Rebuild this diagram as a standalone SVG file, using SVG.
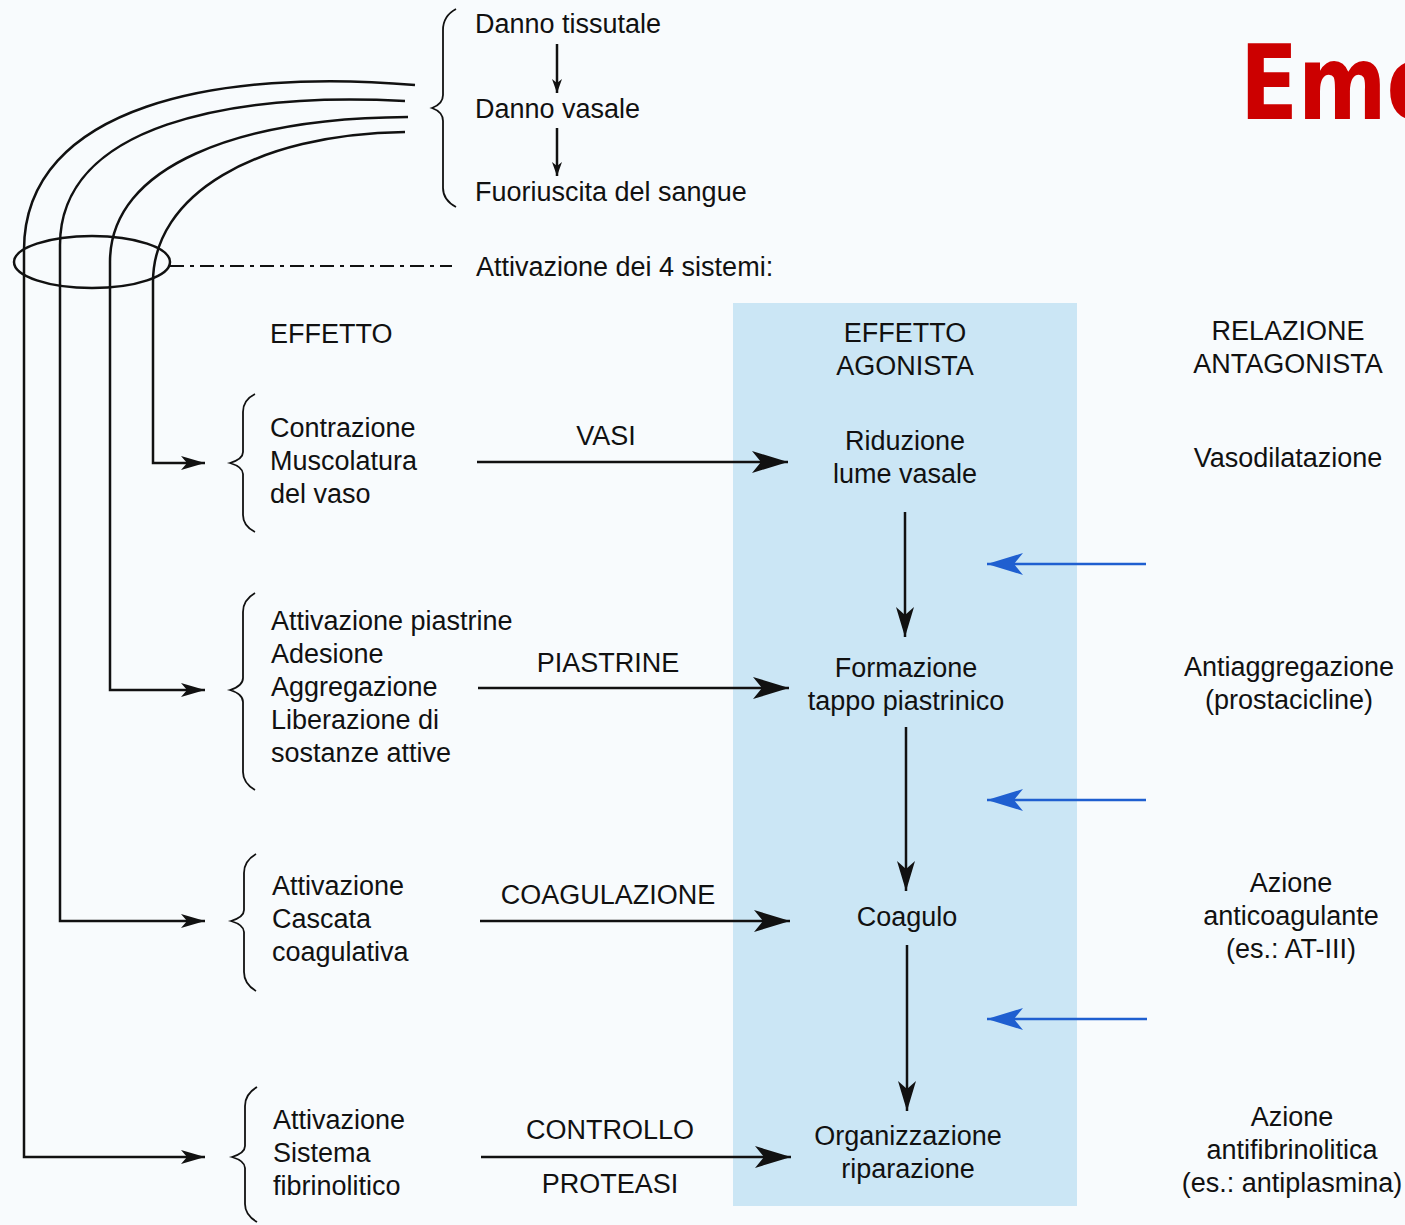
<svg xmlns="http://www.w3.org/2000/svg" width="1405" height="1225" viewBox="0 0 1405 1225">
<defs>
<marker id="big" markerUnits="userSpaceOnUse" markerWidth="36" markerHeight="22" viewBox="0 0 36 22" refX="36" refY="11" orient="auto"><path d="M0,0 L36,11 L0,22 L9,11 z" fill="#111"/></marker>
<marker id="vbig" markerUnits="userSpaceOnUse" markerWidth="30" markerHeight="18" viewBox="0 0 30 18" refX="30" refY="9" orient="auto"><path d="M0,0 L30,9 L0,18 L8,9 z" fill="#111"/></marker>
<marker id="med" markerUnits="userSpaceOnUse" markerWidth="24" markerHeight="14" viewBox="0 0 24 14" refX="24" refY="7" orient="auto"><path d="M0,0 L24,7 L0,14 L6,7 z" fill="#111"/></marker>
<marker id="small" markerUnits="userSpaceOnUse" markerWidth="14" markerHeight="10" viewBox="0 0 14 10" refX="14" refY="5" orient="auto"><path d="M0,0 L14,5 L0,10 L4,5 z" fill="#111"/></marker>
<marker id="blue" markerUnits="userSpaceOnUse" markerWidth="36" markerHeight="22" viewBox="0 0 36 22" refX="36" refY="11" orient="auto"><path d="M0,0 L36,11 L0,22 L9,11 z" fill="#1f5fd0"/></marker>
</defs>
<style>
text{font-family:"Liberation Sans",Arial,sans-serif;font-size:27px;fill:#111}
.c{text-anchor:middle}
.ln{fill:none;stroke:#111;stroke-width:2.5}
.br{fill:none;stroke:#111;stroke-width:1.8}
.bl{fill:none;stroke:#1f5fd0;stroke-width:2.5}
</style>
<rect x="0" y="0" width="1405" height="1225" fill="#f8fbfd"/>
<rect x="733" y="303" width="344" height="903" fill="#cbe6f5"/>
<text x="1240" y="119" textLength="205" lengthAdjust="spacingAndGlyphs" style="font-family:'DejaVu Sans',sans-serif;font-size:104px;font-weight:bold;fill:#cc0000">Emo</text>

<g id="connectors">
<path class="ln" d="M415,85 C220,68 24,105 24,250 L24,1157 L205,1157" marker-end="url(#med)"/>
<path class="ln" d="M405,101 C230,92 60,125 60,245 L60,921 L205,921" marker-end="url(#med)"/>
<path class="ln" d="M408,117 C240,118 110,165 110,262 L110,690 L205,690" marker-end="url(#med)"/>
<path class="ln" d="M405,132 C255,134 153,195 153,282 L153,463 L205,463" marker-end="url(#med)"/>
<ellipse class="ln" cx="92" cy="262" rx="78" ry="26"/>
<line x1="170" y1="266" x2="452" y2="266" stroke="#111" stroke-width="2" stroke-dasharray="14,6,4,6"/>
<line class="ln" x1="557" y1="44" x2="557" y2="93" stroke-width="1.8" marker-end="url(#small)"/>
<line class="ln" x1="557" y1="128" x2="557" y2="176" stroke-width="1.8" marker-end="url(#small)"/>
<line class="ln" x1="477" y1="462" x2="788" y2="462" marker-end="url(#big)"/>
<line class="ln" x1="478" y1="688" x2="789" y2="688" marker-end="url(#big)"/>
<line class="ln" x1="480" y1="921" x2="790" y2="921" marker-end="url(#big)"/>
<line class="ln" x1="481" y1="1157" x2="791" y2="1157" marker-end="url(#big)"/>
<line class="ln" x1="905" y1="512" x2="905" y2="637" marker-end="url(#vbig)"/>
<line class="ln" x1="906" y1="727" x2="906" y2="891" marker-end="url(#vbig)"/>
<line class="ln" x1="907" y1="945" x2="907" y2="1111" marker-end="url(#vbig)"/>
<line class="bl" x1="1146" y1="564" x2="987" y2="564" marker-end="url(#blue)"/>
<line class="bl" x1="1146" y1="800" x2="987" y2="800" marker-end="url(#blue)"/>
<line class="bl" x1="1147" y1="1019" x2="987" y2="1019" marker-end="url(#blue)"/>
</g>

<g id="brace-top">
<path class="br" d="M456,9 Q443,16 443,30 L443,95 Q443,104 432,108 Q443,112 443,121 L443,188 Q443,200 456,207"/>
<text x="475" y="33">Danno tissutale</text>
<text x="475" y="118">Danno vasale</text>
<text x="475" y="201">Fuoriuscita del sangue</text>
</g>
<g id="attivazione"><text x="476" y="276">Attivazione dei 4 sistemi:</text></g>

<g id="hdr-effetto"><text x="270" y="343">EFFETTO</text></g>
<g id="hdr-agonista"><text class="c" x="905" y="342">EFFETTO</text><text class="c" x="905" y="375">AGONISTA</text></g>
<g id="hdr-antagonista"><text class="c" x="1288" y="340">RELAZIONE</text><text class="c" x="1288" y="373">ANTAGONISTA</text></g>

<g id="eff-vasi">
<path class="br" d="M255,394 Q243,400 243,412 L243,452 Q243,459 230,463 Q243,467 243,474 L243,515 Q243,526 255,532"/>
<text x="270" y="437">Contrazione</text><text x="270" y="470">Muscolatura</text><text x="270" y="503">del vaso</text>
</g>
<g id="eff-piastrine">
<path class="br" d="M255,593 Q243,600 243,612 L243,678 Q243,686 230,690 Q243,694 243,702 L243,772 Q243,783 255,790"/>
<text x="271" y="630">Attivazione piastrine</text><text x="271" y="663">Adesione</text><text x="271" y="696">Aggregazione</text><text x="271" y="729">Liberazione di</text><text x="271" y="762">sostanze attive</text>
</g>
<g id="eff-coag">
<path class="br" d="M256,854 Q244,861 244,873 L244,910 Q244,917 231,921 Q244,925 244,932 L244,972 Q244,984 256,991"/>
<text x="272" y="895">Attivazione</text><text x="272" y="928">Cascata</text><text x="272" y="961">coagulativa</text>
</g>
<g id="eff-fibr">
<path class="br" d="M257,1087 Q245,1094 245,1106 L245,1146 Q245,1153 232,1157 Q245,1161 245,1168 L245,1204 Q245,1215 257,1222"/>
<text x="273" y="1129">Attivazione</text><text x="273" y="1162">Sistema</text><text x="273" y="1195">fibrinolitico</text>
</g>

<g id="lbl-vasi"><text class="c" x="606" y="445">VASI</text></g>
<g id="lbl-piastrine"><text class="c" x="608" y="672">PIASTRINE</text></g>
<g id="lbl-coag"><text class="c" x="608" y="904">COAGULAZIONE</text></g>
<g id="lbl-controllo"><text class="c" x="610" y="1139">CONTROLLO</text><text class="c" x="610" y="1193">PROTEASI</text></g>

<g id="ag-riduzione"><text class="c" x="905" y="450">Riduzione</text><text class="c" x="905" y="483">lume vasale</text></g>
<g id="ag-tappo"><text class="c" x="906" y="677">Formazione</text><text class="c" x="906" y="710">tappo piastrinico</text></g>
<g id="ag-coagulo"><text class="c" x="907" y="926">Coagulo</text></g>
<g id="ag-organizzazione"><text class="c" x="908" y="1145">Organizzazione</text><text class="c" x="908" y="1178">riparazione</text></g>

<g id="an-vaso"><text class="c" x="1288" y="467">Vasodilatazione</text></g>
<g id="an-aggreg"><text class="c" x="1289" y="676">Antiaggregazione</text><text class="c" x="1289" y="709">(prostacicline)</text></g>
<g id="an-coag"><text class="c" x="1291" y="892">Azione</text><text class="c" x="1291" y="925">anticoagulante</text><text class="c" x="1291" y="958">(es.: AT-III)</text></g>
<g id="an-fibr"><text class="c" x="1292" y="1126">Azione</text><text class="c" x="1292" y="1159">antifibrinolitica</text><text class="c" x="1292" y="1192">(es.: antiplasmina)</text></g>
</svg>
